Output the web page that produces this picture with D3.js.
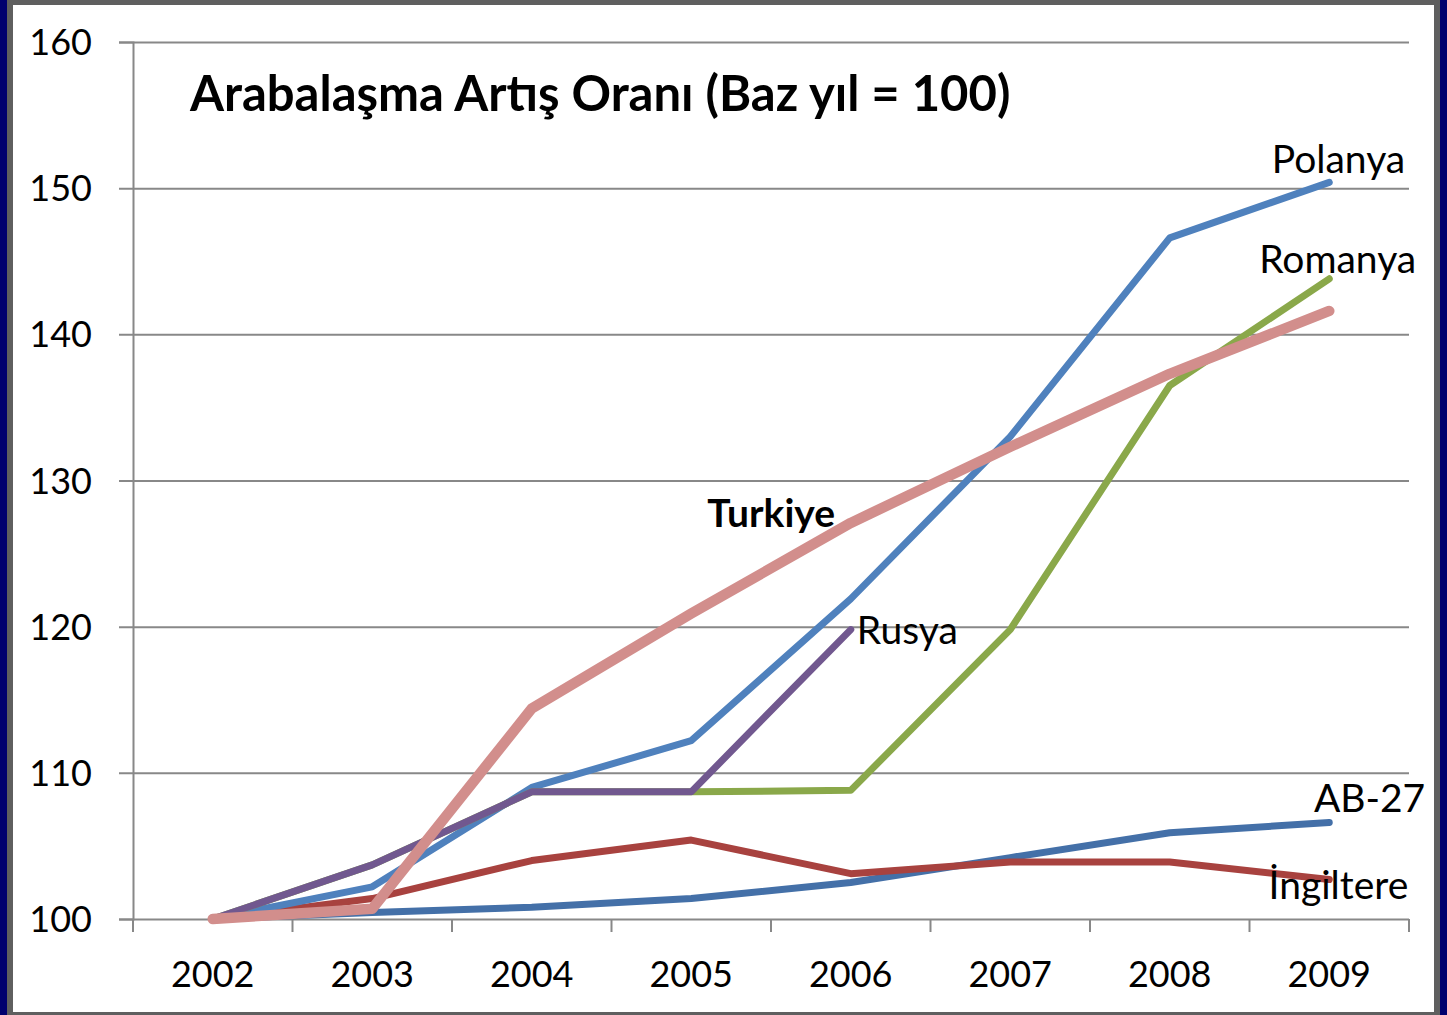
<!DOCTYPE html>
<html>
<head>
<meta charset="utf-8">
<script src="https://cdn.jsdelivr.net/npm/d3@7"></script>
<style>
  html, body { margin: 0; padding: 0; background: #00006e; }
  svg { display: block; font-family: Lato, "Open Sans", sans-serif; }
</style>
</head>
<body>
<svg id="chart" width="1447" height="1015"></svg>
<script>
const years = ['2002', '2003', '2004', '2005', '2006', '2007', '2008', '2009'];
const yTicks = [100, 110, 120, 130, 140, 150, 160];

const ab27 = [100, 100.45, 100.8, 101.4, 102.5, 104.2, 105.9, 106.6];
const ingiltere = [100, 101.4, 104.0, 105.4, 103.1, 103.9, 103.9, 102.7];
const polanya = [100, 102.2, 109.0, 112.2, 121.9, 133.0, 146.6, 150.4];
const romanya = [100, 103.7, 108.7, 108.7, 108.8, 119.8, 136.5, 143.8];
const rusya = [100, 103.7, 108.7, 108.7, 119.8];
const turkiye = [100, 100.7, 114.4, 120.9, 127.1, 132.3, 137.3, 141.6];

const title = 'Arabalaşma Artış Oranı (Baz yıl = 100)';

const margin = {top: 42, right: 38, bottom: 96, left: 133};
const width = 1447, height = 1015;
const plotW = width - margin.left - margin.right;
const plotH = height - margin.top - margin.bottom;

// drawn in this order, last one on top
const series = [
  {name: 'AB-27', values: ab27, color: '#4470a8', width: 7,
   label: {dx: 96, dy: -11, anchor: 'end'}},
  {name: 'İngiltere', values: ingiltere, color: '#a8423f', width: 7,
   label: {dx: 79, dy: 19, anchor: 'end'}},
  {name: 'Polanya', values: polanya, color: '#4f81bd', width: 7,
   label: {dx: 76, dy: -9, anchor: 'end'}},
  {name: 'Romanya', values: romanya, color: '#8aa84a', width: 7,
   label: {dx: 87, dy: -6, anchor: 'end'}},
  {name: 'Rusya', values: rusya, color: '#71588f', width: 7,
   label: {dx: 6, dy: 14, anchor: 'start'}},
  {name: 'Turkiye', values: turkiye, color: '#d28e8c', width: 10.5, bold: true}
];

const svg = d3.select('#chart');

// frame: navy edges, grey band, white page
svg.append('rect').attr('width', width).attr('height', height).attr('fill', '#00006e');
svg.append('rect').attr('x', 7).attr('width', width - 14).attr('height', height).attr('fill', '#5f5f5f');
svg.append('rect').attr('x', 13).attr('y', 5).attr('width', width - 26).attr('height', height - 8).attr('fill', '#fff');

const g = svg.append('g').attr('transform', `translate(${margin.left},${margin.top})`);

const x = d3.scaleBand().domain(years).range([0, plotW]).padding(0);
const y = d3.scaleLinear().domain([100, 160]).range([plotH, 0]);
const xc = d => x(d) + x.bandwidth() / 2;

// y axis with gridlines
const yAxis = g.append('g').call(d3.axisLeft(y).tickValues(yTicks).tickSize(14).tickPadding(27));
yAxis.select('.domain').attr('stroke', '#888').attr('stroke-width', 2);
yAxis.selectAll('.tick line')
  .attr('x1', -14).attr('x2', plotW)
  .attr('stroke', '#888').attr('stroke-width', 2);
yAxis.selectAll('.tick text')
  .attr('fill', '#000').attr('font-size', 36).attr('dy', '0.35em')
  .attr('font-family', 'Lato, sans-serif');

// x axis: labels in the middle of each band, ticks on band edges
const xAxis = g.append('g').attr('transform', `translate(0,${plotH})`)
  .call(d3.axisBottom(x).tickSize(0).tickPadding(0));
xAxis.select('.domain').remove();
xAxis.selectAll('.tick text')
  .attr('fill', '#000').attr('font-size', 36).attr('y', 68).attr('dy', 0)
  .attr('font-family', 'Lato, sans-serif');
xAxis.selectAll('.edge')
  .data(years.map(d => x(d)).concat([plotW]))
  .join('line')
  .attr('class', 'edge')
  .attr('x1', d => d).attr('x2', d => d)
  .attr('y1', 0).attr('y2', 13)
  .attr('stroke', '#888').attr('stroke-width', 2);

const line = d3.line()
  .x((d, i) => xc(years[i]))
  .y(d => y(d));

g.selectAll('.series')
  .data(series)
  .join('path')
  .attr('class', 'series')
  .attr('fill', 'none')
  .attr('stroke', d => d.color)
  .attr('stroke-width', d => d.width)
  .attr('stroke-linejoin', 'round')
  .attr('stroke-linecap', 'round')
  .attr('d', d => line(d.values));

// end-of-line labels
series.filter(s => s.label).forEach(s => {
  const last = s.values.length - 1;
  g.append('text')
    .attr('x', xc(years[last]) + s.label.dx)
    .attr('y', y(s.values[last]) + s.label.dy)
    .attr('text-anchor', s.label.anchor)
    .attr('font-size', 39)
    .attr('fill', '#000')
    .text(s.name);
});

// Turkiye label sits above its line, between 2005 and 2006
g.append('text')
  .attr('x', xc('2005') + 16)
  .attr('y', y(126.8))
  .attr('font-size', 39)
  .attr('font-weight', 'bold')
  .attr('fill', '#000')
  .text('Turkiye');

g.append('text')
  .attr('x', 57)
  .attr('y', 69)
  .attr('font-size', 49)
  .attr('font-weight', 'bold')
  .attr('fill', '#000')
  .text(title);
</script>
</body>
</html>
